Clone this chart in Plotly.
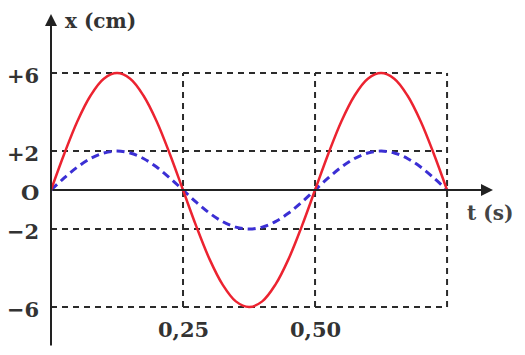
import plotly.graph_objects as go

# ---- data ----
t_vals = [0, 0.025, 0.05, 0.075, 0.1, 0.125, 0.15, 0.175, 0.2, 0.225, 0.25,
          0.275, 0.3, 0.325, 0.35, 0.375, 0.4, 0.425, 0.45, 0.475, 0.5,
          0.525, 0.55, 0.575, 0.6, 0.625, 0.65, 0.675, 0.7, 0.725, 0.75]
x_red = [0, 1.85, 3.53, 4.85, 5.71, 6, 5.71, 4.85, 3.53, 1.85, 0,
         -1.85, -3.53, -4.85, -5.71, -6, -5.71, -4.85, -3.53, -1.85, 0,
         1.85, 3.53, 4.85, 5.71, 6, 5.71, 4.85, 3.53, 1.85, 0]
x_blue = [0, 0.62, 1.18, 1.62, 1.90, 2, 1.90, 1.62, 1.18, 0.62, 0,
          -0.62, -1.18, -1.62, -1.90, -2, -1.90, -1.62, -1.18, -0.62, 0,
          0.62, 1.18, 1.62, 1.90, 2, 1.90, 1.62, 1.18, 0.62, 0]
y_levels = [6, 2, 0, -2, -6]
y_labels = ["+6", "+2", "O", "\u22122", "\u22126"]
grid_y = [6, 2, -2, -6]
grid_t = [0.25, 0.5, 0.75]
t_ticks = [0.25, 0.5]
t_labels = ["0,25", "0,50"]
t_max = 0.75
x_lim = 6

T_RANGE = [0, 0.837]
X_RANGE = [-8.05, 9.03]

FONT = "DejaVu Serif"
GRID = "#2b2b2b"
TXT = "#333333"

fig = go.Figure()

# dashed guide lines
for y in grid_y:
    fig.add_trace(go.Scatter(x=[0, t_max], y=[y, y], mode="lines",
                             line=dict(color=GRID, width=2, dash="6px,5px"),
                             hoverinfo="skip", showlegend=False))
for t in grid_t:
    fig.add_trace(go.Scatter(x=[t, t], y=[-x_lim, x_lim], mode="lines",
                             line=dict(color=GRID, width=2, dash="6px,5px"),
                             hoverinfo="skip", showlegend=False))

# curves
fig.add_trace(go.Scatter(x=t_vals, y=x_blue, mode="lines",
                         line=dict(color="#3b2fd4", width=3, dash="8px,5px", shape="spline"),
                         showlegend=False))
fig.add_trace(go.Scatter(x=t_vals, y=x_red, mode="lines",
                         line=dict(color="#ec2330", width=2.5, shape="spline"),
                         showlegend=False))

annotations = []
# axes as arrows
annotations.append(dict(x=T_RANGE[1], y=0, ax=0, ay=0, xref="x", yref="y",
                        axref="x", ayref="y", showarrow=True, arrowhead=2,
                        arrowsize=1.2, arrowwidth=2, arrowcolor="#222", text=""))
annotations.append(dict(x=0, y=X_RANGE[1], ax=0, ay=X_RANGE[0], xref="x", yref="y",
                        axref="x", ayref="y", showarrow=True, arrowhead=2,
                        arrowsize=1.2, arrowwidth=2, arrowcolor="#222", text=""))

for v, lab in zip(y_levels, y_labels):
    annotations.append(dict(x=0, y=v, xref="x", yref="y", text="<b>%s</b>" % lab,
                            showarrow=False, xanchor="right", xshift=-10, yshift=-2,
                            font=dict(family=FONT, size=21, color=TXT)))
for v, lab in zip(t_ticks, t_labels):
    annotations.append(dict(x=v, y=-7.13, xref="x", yref="y", text="<b>%s</b>" % lab,
                            showarrow=False, xanchor="center",
                            font=dict(family=FONT, size=21, color=TXT)))
annotations.append(dict(x=0, y=1, xref="x", yref="paper", text="<b>x (cm)</b>",
                        showarrow=False, xanchor="left", yanchor="top",
                        xshift=13, yshift=6, borderpad=0,
                        font=dict(family=FONT, size=20, color=TXT)))
annotations.append(dict(x=T_RANGE[1], y=0, xref="x", yref="y", text="<b>t (s)</b>",
                        showarrow=False, xanchor="center", xshift=-3, yshift=-23,
                        font=dict(family=FONT, size=20, color="#444")))

fig.update_layout(
    width=517, height=347,
    margin=dict(l=43, r=32, t=6, b=8),
    paper_bgcolor="white", plot_bgcolor="white",
    xaxis=dict(range=T_RANGE, visible=False, fixedrange=True),
    yaxis=dict(range=X_RANGE, visible=False, fixedrange=True),
    annotations=annotations,
)
fig.write_html("out.html")
